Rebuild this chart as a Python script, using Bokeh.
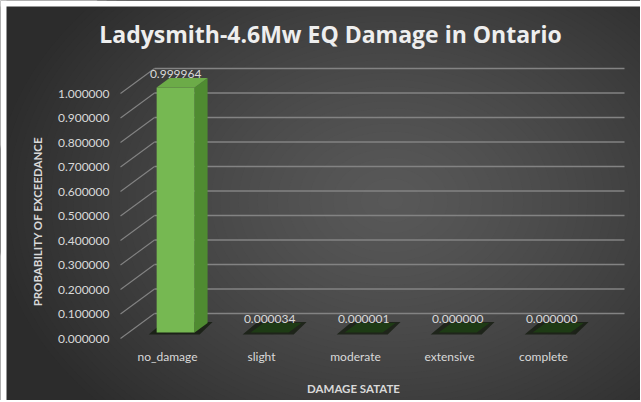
import numpy as np
from bokeh.plotting import figure
from bokeh.models import LinearAxis, FixedTicker, NumeralTickFormatter, Range1d, Label
from bokeh.embed import file_html
from bokeh.resources import INLINE
from bokeh.core.properties import value

# ---- data -------------------------------------------------------------
categories = ["no_damage", "slight", "moderate", "extensive", "complete"]
probabilities = [0.999964, 0.000034, 0.000001, 0.000000, 0.000000]
y_ticks = [0.0, 0.1, 0.2, 0.3, 0.4, 0.5, 0.6, 0.7, 0.8, 0.9, 1.0]

title_text = "Ladysmith-4.6Mw EQ Damage in Ontario"
x_title = "DAMAGE SATATE"
y_title = "PROBABILITY OF EXCEEDANCE"

# ---- geometry of the pseudo-3D box ------------------------------------
W, H = 640, 400
CAT_PX = 94.0      # pixels per category step
UNIT_PX = 245.0    # pixels per 1.0 of probability
LEFT_PX = 120.0    # pixel column of the front-left wall edge (x = -0.5)
ZERO_PX = 338.0    # pixel row of probability 0 on the front plane

x_start = -0.5 - LEFT_PX / CAT_PX
x_end = x_start + W / CAT_PX
y_end = ZERO_PX / UNIT_PX
y_start = y_end - H / UNIT_PX


def px_x(px):
    return x_start + px / CAT_PX


def px_y(py):
    return (ZERO_PX - py) / UNIT_PX


DEPTH_X = 34 / CAT_PX      # full depth of the box, in data units
DEPTH_Y = 25 / UNIT_PX
F_FRONT, F_BACK = 0.24, 0.62   # bar front/back positions within the depth
BAR_W = 38 / CAT_PX

FONT = "Lato"
LABEL_COLOR = "#d9d9d9"
GRID_COLOR = "#838383"
EDGE_LEVEL, CENTER_LEVEL = 0x2c, 0x58
EDGE = "#%02x%02x%02x" % (EDGE_LEVEL, EDGE_LEVEL, EDGE_LEVEL)

p = figure(width=W, height=H, x_range=Range1d(x_start, x_end),
           y_range=Range1d(y_start, y_end), output_backend="svg",
           toolbar_location=None, x_axis_type=None, y_axis_type=None,
           min_border=0, outline_line_color=None,
           background_fill_color=EDGE, border_fill_color=EDGE)

# ---- dark radial background: stepped concentric ellipses ---------------
levels = np.arange(EDGE_LEVEL + 1, CENTER_LEVEL + 1)
tt = ((CENTER_LEVEL - levels + 0.5) / (CENTER_LEVEL - EDGE_LEVEL)) ** (1 / 1.3)
p.ellipse(x=[px_x(390)] * len(levels), y=[px_y(200)] * len(levels),
          width=list(2 * 400 * tt / CAT_PX), height=list(2 * 300 * tt / UNIT_PX),
          fill_color=["#%02x%02x%02x" % (l, l, l) for l in levels], line_color=None)

# white page margin along the top and left edges
p.quad(left=[x_start, x_start], right=[x_end, px_x(6)],
       top=[y_end, y_end], bottom=[px_y(6), y_start],
       fill_color="white", line_color=None)

# ---- walls: back gridlines and side-wall diagonals --------------------
n = len(y_ticks)
p.segment(x0=[-0.5 + DEPTH_X] * n, y0=[v + DEPTH_Y for v in y_ticks],
          x1=[len(categories) - 0.5 + DEPTH_X] * n, y1=[v + DEPTH_Y for v in y_ticks],
          line_color=GRID_COLOR, line_width=1.4)
p.segment(x0=[-0.5] * n, y0=y_ticks,
          x1=[-0.5 + DEPTH_X] * n, y1=[v + DEPTH_Y for v in y_ticks],
          line_color=GRID_COLOR, line_width=1.1)

# ---- 3D columns --------------------------------------------------------
ddx = (F_BACK - F_FRONT) * DEPTH_X
ddy = (F_BACK - F_FRONT) * DEPTH_Y
by = F_FRONT * DEPTH_Y
sh = 5 / CAT_PX

front_x, front_y, side_x, side_y, top_x, top_y, top_c = [], [], [], [], [], [], []
shadow_x, shadow_y = [], []
centers = []
for i, v in enumerate(probabilities):
    cx = i + F_FRONT * DEPTH_X
    centers.append(cx)
    xl, xr, ty = cx - BAR_W / 2, cx + BAR_W / 2, v + by
    shadow_x.append([xl - 1.6 * sh, xr + sh, xr + ddx + sh, xl + ddx - 1.2 * sh])
    shadow_y.append([by - 2 / UNIT_PX, by - 2 / UNIT_PX, by + ddy + 1 / UNIT_PX, by + ddy + 1 / UNIT_PX])
    front_x.append([xl, xr, xr, xl])
    front_y.append([by, by, ty, ty])
    side_x.append([xr, xr + ddx, xr + ddx, xr])
    side_y.append([by, by + ddy, ty + ddy, ty])
    top_x.append([xl, xr, xr + ddx, xl + ddx])
    top_y.append([ty, ty, ty + ddy, ty + ddy])
    top_c.append("#6cab48" if v * UNIT_PX > 2 else "#1e3b15")

p.patches(xs=shadow_x, ys=shadow_y, fill_color="#111a0c", fill_alpha=0.75, line_color=None)
p.patches(xs=front_x, ys=front_y, fill_color="#76b852", line_color=None)
p.patches(xs=side_x, ys=side_y, fill_color="#4f8b31", line_color=None)
p.patches(xs=top_x, ys=top_y, fill_color=top_c, line_color=None)

# ---- data labels -------------------------------------------------------
p.text(x=centers, y=[v + F_BACK * DEPTH_Y for v in probabilities],
       text=[f"{v:.6f}" for v in probabilities], text_align="center",
       text_baseline="bottom", text_font=value(FONT), text_font_size="12px",
       text_color=LABEL_COLOR)

# ---- axes on the front plane -------------------------------------------
yaxis = LinearAxis(ticker=FixedTicker(ticks=y_ticks),
                   formatter=NumeralTickFormatter(format="0.000000"),
                   fixed_location=-0.5)
xaxis = LinearAxis(ticker=FixedTicker(ticks=list(range(len(categories)))),
                   major_label_overrides={i: c for i, c in enumerate(categories)},
                   fixed_location=0)
for ax in (xaxis, yaxis):
    ax.axis_line_color = None
    ax.major_tick_line_color = None
    ax.minor_tick_line_color = None
    ax.major_label_text_font = FONT
    ax.major_label_text_font_size = "12px"
    ax.major_label_text_color = LABEL_COLOR
yaxis.major_label_standoff = 5
xaxis.major_label_standoff = 4
p.add_layout(yaxis, "left")
p.add_layout(xaxis, "below")

# ---- titles ------------------------------------------------------------
p.add_layout(Label(x=px_x(330), y=px_y(33), text=title_text, text_align="center",
                   text_baseline="middle", text_font="Open Sans",
                   text_font_size="23px", text_font_style="bold",
                   text_color="#eeeeee"))
p.add_layout(Label(x=px_x(353), y=px_y(388), text=x_title, text_align="center",
                   text_baseline="middle", text_font=FONT,
                   text_font_size="11.5px", text_font_style="bold",
                   text_color=LABEL_COLOR))
p.add_layout(Label(x=px_x(37), y=px_y(221), text=y_title, text_align="center",
                   text_baseline="middle", angle=np.pi / 2, text_font=FONT,
                   text_font_size="11.5px", text_font_style="bold",
                   text_color=LABEL_COLOR))

open("out.html", "w").write(file_html(p, INLINE))
